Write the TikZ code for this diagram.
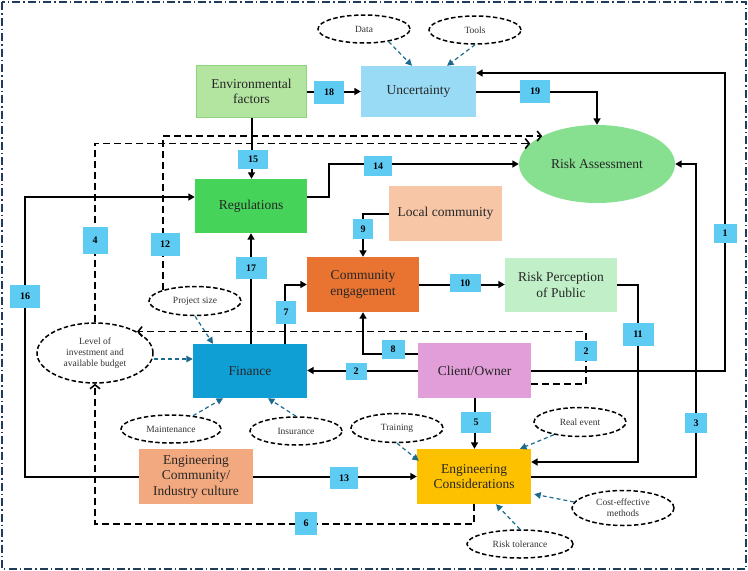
\documentclass[tikz,border=0pt]{standalone}
\usepackage{fontspec}
\setmainfont{Liberation Serif}
\usetikzlibrary{arrows.meta,shapes.geometric,calc}
\definecolor{envfill}{HTML}{B3E5A1}
\definecolor{envdraw}{HTML}{8CD57A}
\definecolor{unfill}{HTML}{99DBF5}
\definecolor{rafill}{HTML}{86E08F}
\definecolor{regfill}{HTML}{46D35A}
\definecolor{lcfill}{HTML}{F6C6A7}
\definecolor{cefill}{HTML}{E97432}
\definecolor{rpfill}{HTML}{C1F0C8}
\definecolor{finfill}{HTML}{0F9FD5}
\definecolor{cofill}{HTML}{E29ED9}
\definecolor{ecfill}{HTML}{FDC100}
\definecolor{ecifill}{HTML}{F2A97F}
\definecolor{lblblue}{HTML}{5ECBF3}
\definecolor{arrblue}{HTML}{1C6A8E}
\definecolor{bordercol}{HTML}{203C5A}
\begin{document}
\begin{tikzpicture}[x=1pt,y=-1pt,
  box/.style={rectangle, inner sep=0pt, align=center, text=black!85, font=\fontsize{13.5}{15.5}\selectfont},
  lbl/.style={rectangle, fill=lblblue, inner sep=0pt, minimum width=28pt, minimum height=21pt, font=\fontsize{10}{12}\selectfont\bfseries},
  oval/.style={ellipse, draw=black, line width=1.5pt, dash pattern=on 4.5pt off 2.5pt, fill=white, inner sep=0pt, align=center, font=\fontsize{9.5}{11}\selectfont, text=black!80},
  arr/.style={line width=2pt, -{Triangle[length=6.5pt,width=7pt]}},
  darr/.style={line width=1.6pt, dash pattern=on 7pt off 4pt, -{Straight Barb[length=4pt,width=10pt]}},
  barr/.style={draw=arrblue, line width=1.2pt, dash pattern=on 4pt off 3pt, -{Triangle[length=6.5pt,width=6.5pt]}},
  border/.style={draw=bordercol, line width=1.5pt, dash pattern=on 8pt off 3pt on 1.5pt off 3pt}
]
\useasboundingbox (0,0) rectangle (748,571);
\draw[border] (2,2) rectangle (746,569);

% main nodes
\node[box, fill=envfill, draw=envdraw, line width=1.2pt, minimum width=110pt, minimum height=52pt] (ENV) at (251.5,91.5) {Environmental\\factors};
\node[box, fill=unfill, minimum width=115pt, minimum height=51pt] (UN) at (418.5,91.5) {Uncertainty};
\node[ellipse, fill=rafill, inner sep=0pt, minimum width=156pt, minimum height=78pt, text=black!85, font=\fontsize{13.5}{15.5}\selectfont] (RA) at (597,164) {Risk Assessment};
\node[box, fill=regfill, minimum width=112pt, minimum height=54pt] (REG) at (251,206) {Regulations};
\node[box, fill=lcfill, minimum width=113pt, minimum height=55pt] (LC) at (445.5,213.5) {Local community};
\node[box, fill=cefill, minimum width=112pt, minimum height=55pt] (CE) at (363,284.5) {Community\\engagement};
\node[box, fill=rpfill, minimum width=112pt, minimum height=54pt] (RP) at (561,285) {Risk Perception\\of Public};
\node[box, fill=finfill, minimum width=114pt, minimum height=54pt] (FIN) at (250,371) {Finance};
\node[box, fill=cofill, minimum width=113pt, minimum height=55pt] (CO) at (474.5,370.5) {Client/Owner};
\node[box, fill=ecfill, minimum width=114pt, minimum height=55pt] (EC) at (474,476.5) {Engineering\\Considerations};
\node[box, fill=ecifill, minimum width=114pt, minimum height=55pt] (ECI) at (196,476.5) {Engineering\\Community/\\Industry culture};

% ellipses (factors)
\node[oval, minimum width=92pt, minimum height=28pt] (DATA) at (364,29) {Data};
\node[oval, minimum width=92pt, minimum height=28pt] (TOOLS) at (475,30) {Tools};
\node[oval, minimum width=116pt, minimum height=60pt] (LEV) at (95,353) {Level of\\investment and\\available budget};
\node[oval, minimum width=92pt, minimum height=29pt] (PS) at (195,301) {Project size};
\node[oval, minimum width=100pt, minimum height=28pt] (MAINT) at (171,429) {Maintenance};
\node[oval, minimum width=92pt, minimum height=28pt] (INS) at (296,431) {Insurance};
\node[oval, minimum width=92pt, minimum height=29pt] (TRAIN) at (397,428) {Training};
\node[oval, minimum width=92pt, minimum height=29pt] (REAL) at (580,422) {Real event};
\node[oval, minimum width=102pt, minimum height=35pt] (COST) at (623,508) {Cost-effective\\methods};
\node[oval, minimum width=106pt, minimum height=28pt] (RISKT) at (520,544) {Risk tolerance};

% blue dashed influence arrows
\draw[barr] (DATA.-27) -- (UN.north -| 412,0);
\draw[barr] (TOOLS.south) -- (UN.north -| 447,0);
\draw[barr] (PS.south) -- (FIN.north -| 213,0);
\draw[barr] (LEV.east |- 0,359) -- (FIN.west |- 0,359);
\draw[barr] (MAINT.31) -- (FIN.south -| 223,0);
\draw[barr] (INS.north) -- (FIN.south -| 268,0);
\draw[barr] (TRAIN.south) -- ($(EC.north west)+(2,12)$);
\draw[barr] (REAL.206) -- (EC.north -| 520,0);
\draw[barr] (COST.173) -- ($(EC.south east)+(3,-10)$);
\draw[barr] (RISKT.north) -- (EC.south -| 496,0);

% dashed black connectors
\draw[darr] (LEV.north) |- (RA.163);
\draw[darr] (PS.161) |- (RA.153);
\draw[darr] (EC.south) -- ++(0,20) -| (LEV.south);
\draw[darr] (CO.east |- 0,384) -- (586,384) |- (LEV.27);

% solid connectors
\draw[arr] (ENV.east) -- (UN.west);
\draw[arr] (UN.east) -| (RA.north);
\draw[arr] (CO.east) -| (725,73) -- (UN.east |- 725,73);
\draw[arr] (EC.east) -| (696,164) -- (RA.east);
\draw[arr] (RP.east) -| (638,462) -- (EC.east |- 638,462);
\draw[arr] (REG.east |- 0,197) -- (329,197) |- (RA.west);
\draw[arr] (ECI.west) -| (25,197) -- (REG.west |- 25,197);
\draw[arr] (ENV.south) -- (ENV.south |- REG.north);
\draw[arr] (REG.south |- FIN.north) -- (REG.south);
\draw[arr] (FIN.north -| 285,0) |- (CE.west);
\draw[arr] (LC.west) -| (CE.north);
\draw[arr] (CE.east) -- (CE.east -| RP.west);
\draw[arr] (CO.west |- 0,354) -| (CE.south);
\draw[arr] (CO.west) -- (CO.west -| FIN.east);
\draw[arr] (CO.south) -- (CO.south |- EC.north);
\draw[arr] (ECI.east) -- (EC.west);

% number labels
\node[lbl, minimum width=30pt, minimum height=23pt] (l18) at (329,92) {18};
\node[lbl, minimum width=30pt, minimum height=23pt] (l19) at (535,91) {19};
\node[lbl, minimum width=30pt, minimum height=19pt] (l15) at (253,159) {15};
\node[lbl, minimum width=28pt, minimum height=20pt] (l14) at (378,166) {14};
\node[lbl, minimum width=23pt, minimum height=19pt] (l1) at (725,233) {1};
\node[lbl, minimum width=22pt, minimum height=20pt] (l3) at (696,423) {3};
\node[lbl, minimum width=25pt, minimum height=27pt] (l4) at (95,240) {4};
\node[lbl, minimum width=29pt, minimum height=23pt] (l12) at (165,244) {12};
\node[lbl, minimum width=30pt, minimum height=23pt] (l16) at (25,296) {16};
\node[lbl, minimum width=31pt, minimum height=22pt] (l17) at (251,268) {17};
\node[lbl, minimum width=20pt, minimum height=23pt] (l7) at (286,312) {7};
\node[lbl, minimum width=20pt, minimum height=20pt] (l9) at (363,229) {9};
\node[lbl, minimum width=31pt, minimum height=18pt] (l10) at (465,283) {10};
\node[lbl, minimum width=31pt, minimum height=23pt] (l11) at (638,334) {11};
\node[lbl, minimum width=21pt, minimum height=17pt] (l2a) at (356,371) {2};
\node[lbl, minimum width=23pt, minimum height=19pt] (l8) at (393,349) {8};
\node[lbl, minimum width=22pt, minimum height=20pt] (l2b) at (586,351) {2};
\node[lbl, minimum width=30pt, minimum height=21pt] (l5) at (476,422) {5};
\node[lbl, minimum width=28pt, minimum height=22pt] (l13) at (344,478) {13};
\node[lbl, minimum width=22pt, minimum height=23pt] (l6) at (306,523) {6};
\end{tikzpicture}
\end{document}
